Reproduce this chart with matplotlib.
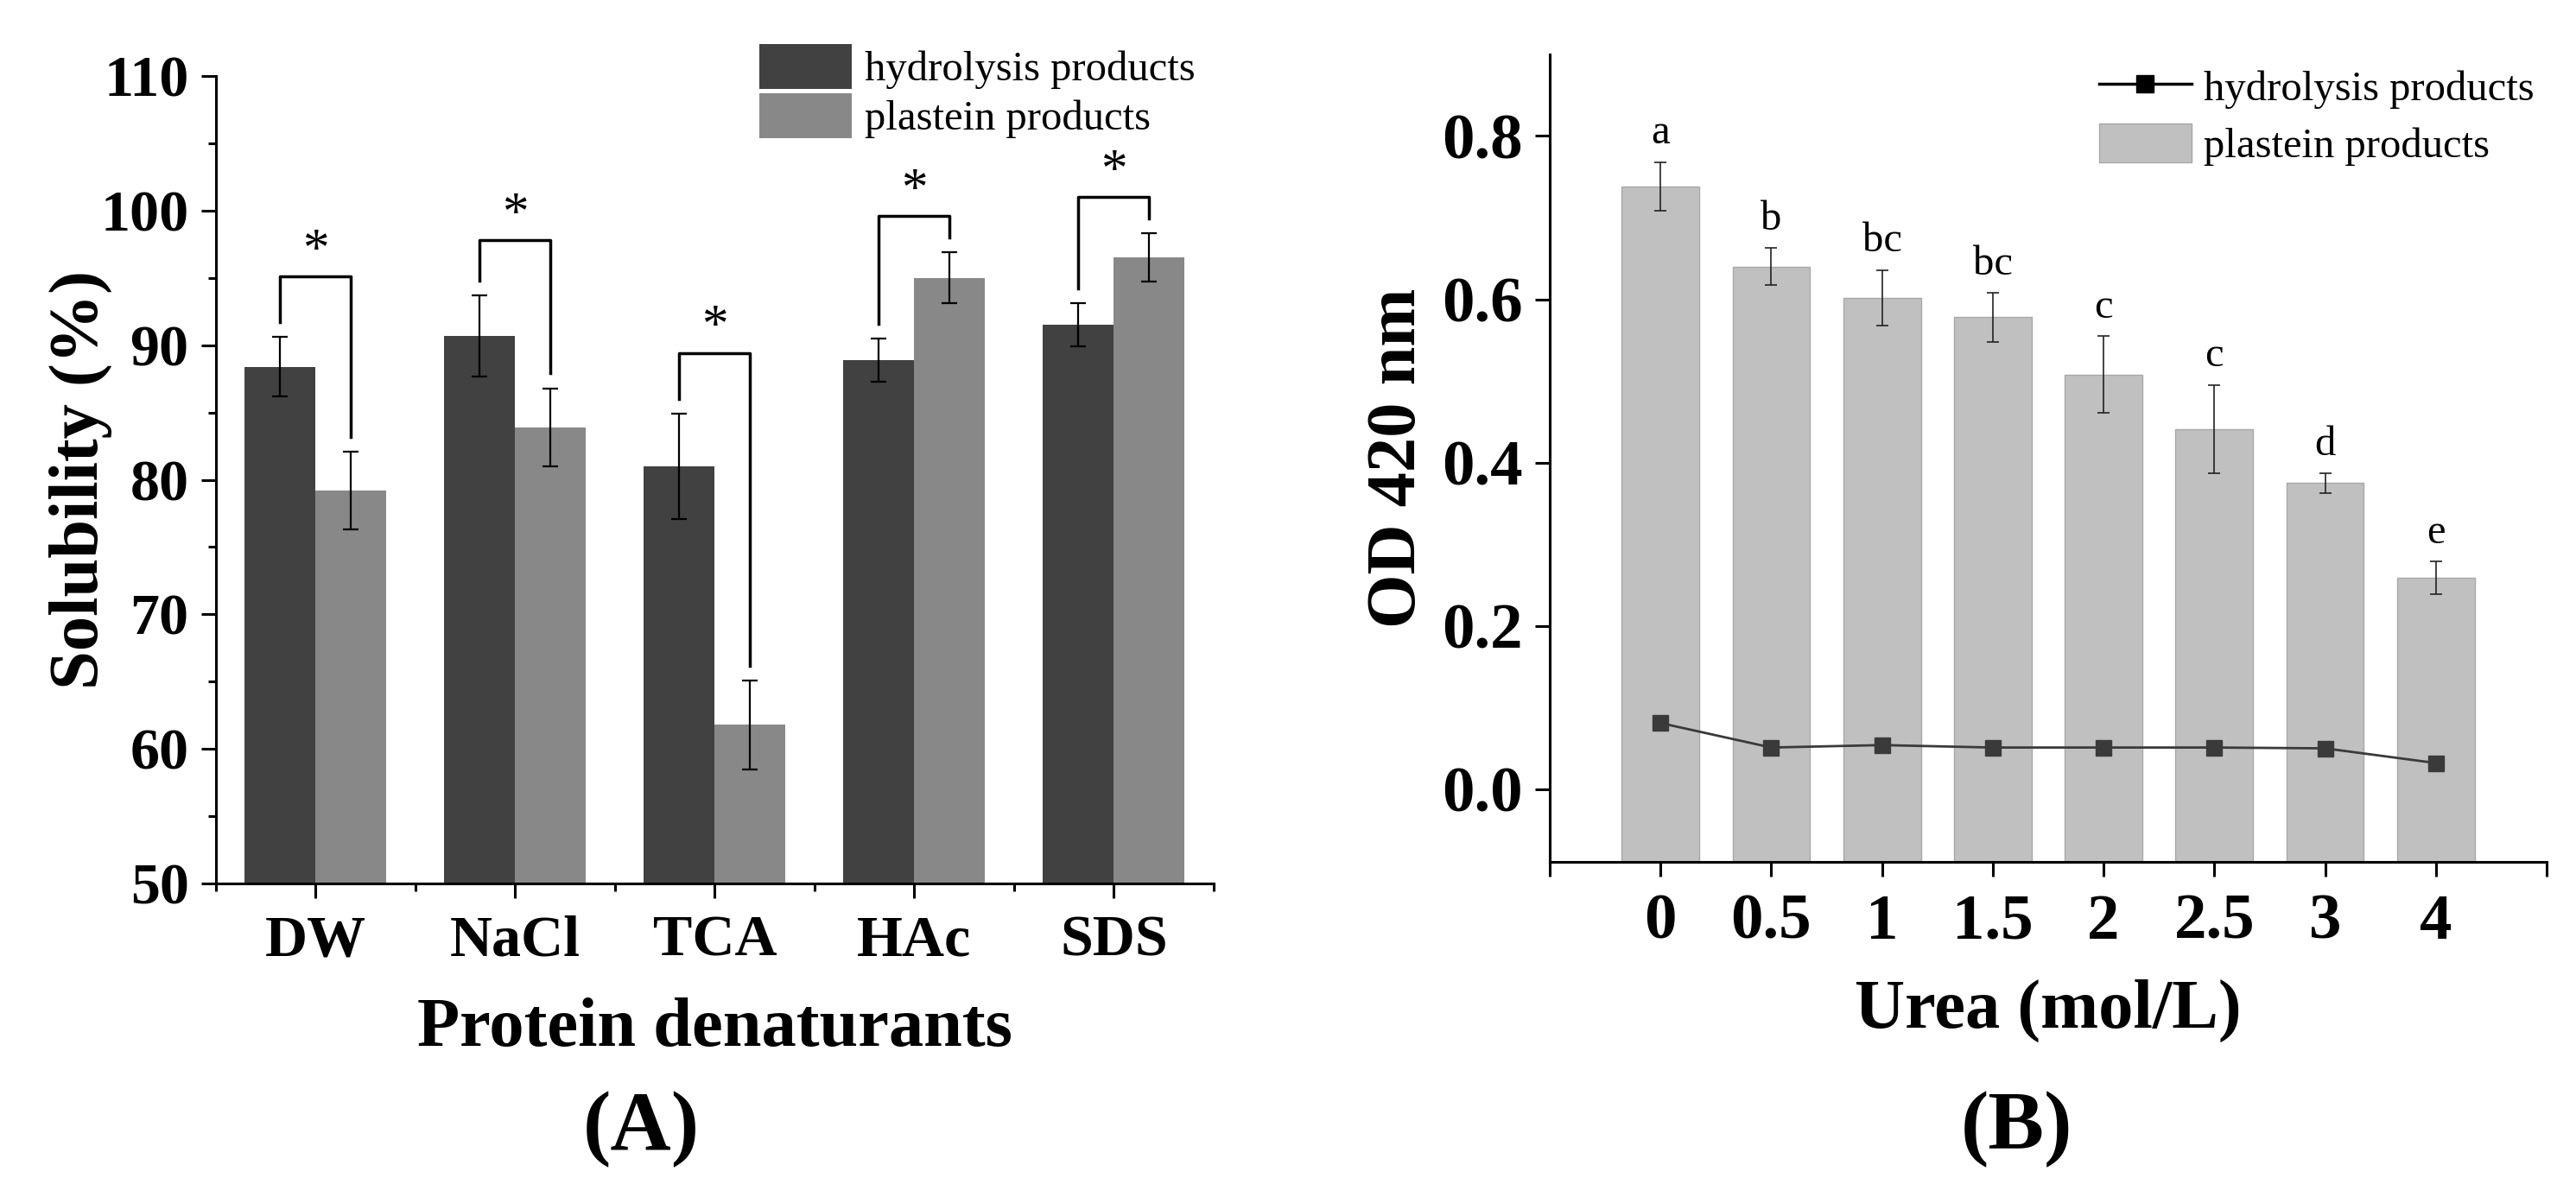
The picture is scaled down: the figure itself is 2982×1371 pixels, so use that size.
import numpy as np
import matplotlib
matplotlib.use('Agg')
import matplotlib.pyplot as plt
from matplotlib.ticker import MultipleLocator, FixedLocator
from matplotlib.lines import Line2D
from matplotlib.patches import Patch

plt.rcParams['font.family'] = ['Liberation Serif', 'DejaVu Serif']

# panel A: solubility
denat = ['DW', 'NaCl', 'TCA', 'HAc', 'SDS']
hyd_sol = [88.4, 90.7, 81.0, 88.9, 91.5]
hyd_err = [2.2, 3.0, 3.9, 1.6, 1.6]
pla_sol = [79.2, 83.9, 61.8, 95.0, 96.5]
pla_err = [2.9, 2.9, 3.3, 1.9, 1.8]
bracket_top = [95.1, 97.8, 89.4, 99.6, 101.0]

# panel B: OD 420 nm vs urea
urea = ['0', '0.5', '1', '1.5', '2', '2.5', '3', '4']
pla_od = [0.738, 0.640, 0.602, 0.578, 0.508, 0.441, 0.375, 0.259]
pla_od_err = [0.030, 0.023, 0.034, 0.030, 0.047, 0.054, 0.012, 0.020]
hyd_od = [0.081, 0.051, 0.054, 0.051, 0.051, 0.051, 0.050, 0.032]
hyd_od_err = [0.006, 0.005, 0.006, 0.005, 0.005, 0.006, 0.005, 0.006]
letters = ['a', 'b', 'bc', 'bc', 'c', 'c', 'd', 'e']
od_floor = -0.089

dark = '#414141'
mid = '#888888'
light = '#c0c0c0'

fig = plt.figure(figsize=(29.82, 13.71), dpi=100)
axA = fig.add_axes([0.0838, 0.2538, 0.3873, 0.682])
axB = fig.add_axes([0.6016, 0.2721, 0.387, 0.682])

for ax in (axA, axB):
    for s in ('top', 'right'):
        ax.spines[s].set_visible(False)
    for s in ('left', 'bottom'):
        ax.spines[s].set_linewidth(2.2)
    ax.tick_params(which='major', direction='out', length=12.5, width=2.2)
    ax.tick_params(which='minor', direction='out', length=6.5, width=2.2)
    ax.tick_params(axis='x', which='major', pad=14)
    ax.tick_params(axis='y', which='major', pad=10)

# ---- A ----
x = np.arange(len(denat))
w = 0.355
ekw = dict(elinewidth=1.6, capthick=1.6, ecolor='black', capsize=6.5)
axA.bar(x - w / 2, hyd_sol, w, color=dark, yerr=hyd_err, error_kw=ekw,
        label='hydrolysis products')
axA.bar(x + w / 2, pla_sol, w, color=mid, yerr=pla_err, error_kw=ekw,
        label='plastein products')
axA.set_xlim(-0.5, 4.5)
axA.set_ylim(50, 110)
axA.yaxis.set_major_locator(MultipleLocator(10))
axA.yaxis.set_minor_locator(MultipleLocator(5))
axA.set_xticks(x)
axA.set_xticklabels(denat, fontweight='bold', fontsize=49)
axA.xaxis.set_minor_locator(FixedLocator(np.arange(-0.5, 5, 1)))
for lab in axA.get_yticklabels():
    lab.set_fontweight('bold')
    lab.set_fontsize(49)

# significance brackets
for i in range(len(denat)):
    y0 = hyd_sol[i] + hyd_err[i] + 1.1
    y1 = pla_sol[i] + pla_err[i] + 1.1
    yt = bracket_top[i]
    axA.plot([x[i] - w / 2, x[i] - w / 2, x[i] + w / 2, x[i] + w / 2],
             [y0, yt, yt, y1], color='black', lw=2.5, clip_on=False)
    axA.text(x[i], yt + 0.1, '*', ha='center', va='bottom', fontsize=44)

axA.set_ylabel('Solubility (%)', fontsize=58, fontweight='bold')
axA.yaxis.set_label_coords(-0.104, 0.5)
axA.set_xlabel('Protein denaturants', fontsize=58, fontweight='bold')
axA.xaxis.set_label_coords(0.5, -0.141)
axA.legend(loc='upper left', bbox_to_anchor=(0.545, 1.04), frameon=False,
           fontsize=35, handlelength=2.2, handleheight=1.28,
           labelspacing=0.1, handletextpad=0.3, borderpad=0,
           borderaxespad=0)

# ---- B ----
xb = np.arange(len(urea))
axB.bar(xb, np.array(pla_od) - od_floor, 0.7, bottom=od_floor, color=light,
        edgecolor='#a8a8a8', linewidth=1,
        yerr=pla_od_err, error_kw=dict(elinewidth=1.2, capthick=1.2,
                                       ecolor='#222222', capsize=5),
        label='plastein products', zorder=2)
axB.errorbar(xb, hyd_od, yerr=hyd_od_err, color='#3a3a3a', lw=2,
             marker='s', ms=13, mfc='#3a3a3a', mec='#3a3a3a',
             ecolor='#3a3a3a', capsize=3, zorder=3,
             label='hydrolysis products')
for i in range(len(urea)):
    axB.text(xb[i], pla_od[i] + pla_od_err[i] + 0.012, letters[i],
             ha='center', va='bottom', fontsize=35)
axB.set_xlim(-1, 8)
axB.set_ylim(od_floor, 0.9)
axB.yaxis.set_major_locator(FixedLocator([0.0, 0.2, 0.4, 0.6, 0.8]))
axB.yaxis.set_major_formatter(plt.FuncFormatter(lambda v, p: '%.1f' % v))
axB.set_xticks(xb)
axB.set_xticklabels(urea, fontweight='bold', fontsize=54)
axB.xaxis.set_minor_locator(FixedLocator([-1, 8]))
axB.tick_params(axis='x', which='minor', length=12.5)
for lab in axB.get_yticklabels():
    lab.set_fontweight('bold')
    lab.set_fontsize(54)

axB.set_ylabel('OD 420 nm', fontsize=58, fontweight='bold')
axB.yaxis.set_label_coords(-0.12, 0.5)
axB.set_xlabel('Urea (mol/L)', fontsize=58, fontweight='bold')
axB.xaxis.set_label_coords(0.5, -0.145)

hB = [Line2D([], [], color='black', lw=2.5, marker='s', ms=14, mfc='black'),
      Patch(facecolor=light, edgecolor='#a8a8a8')]
axB.legend(hB, ['hydrolysis products', 'plastein products'],
           loc='upper left', bbox_to_anchor=(0.551, 0.985), frameon=False,
           fontsize=35, handlelength=2.2, handleheight=1.05,
           labelspacing=0.35, handletextpad=0.3, borderpad=0,
           borderaxespad=0)

fig.text(0.249, 0.046, '(A)', ha='center', va='center', fontsize=70,
         fontweight='bold')
fig.text(0.783, 0.046, '(B)', ha='center', va='center', fontsize=70,
         fontweight='bold')

fig.savefig('out.png', dpi=100)
